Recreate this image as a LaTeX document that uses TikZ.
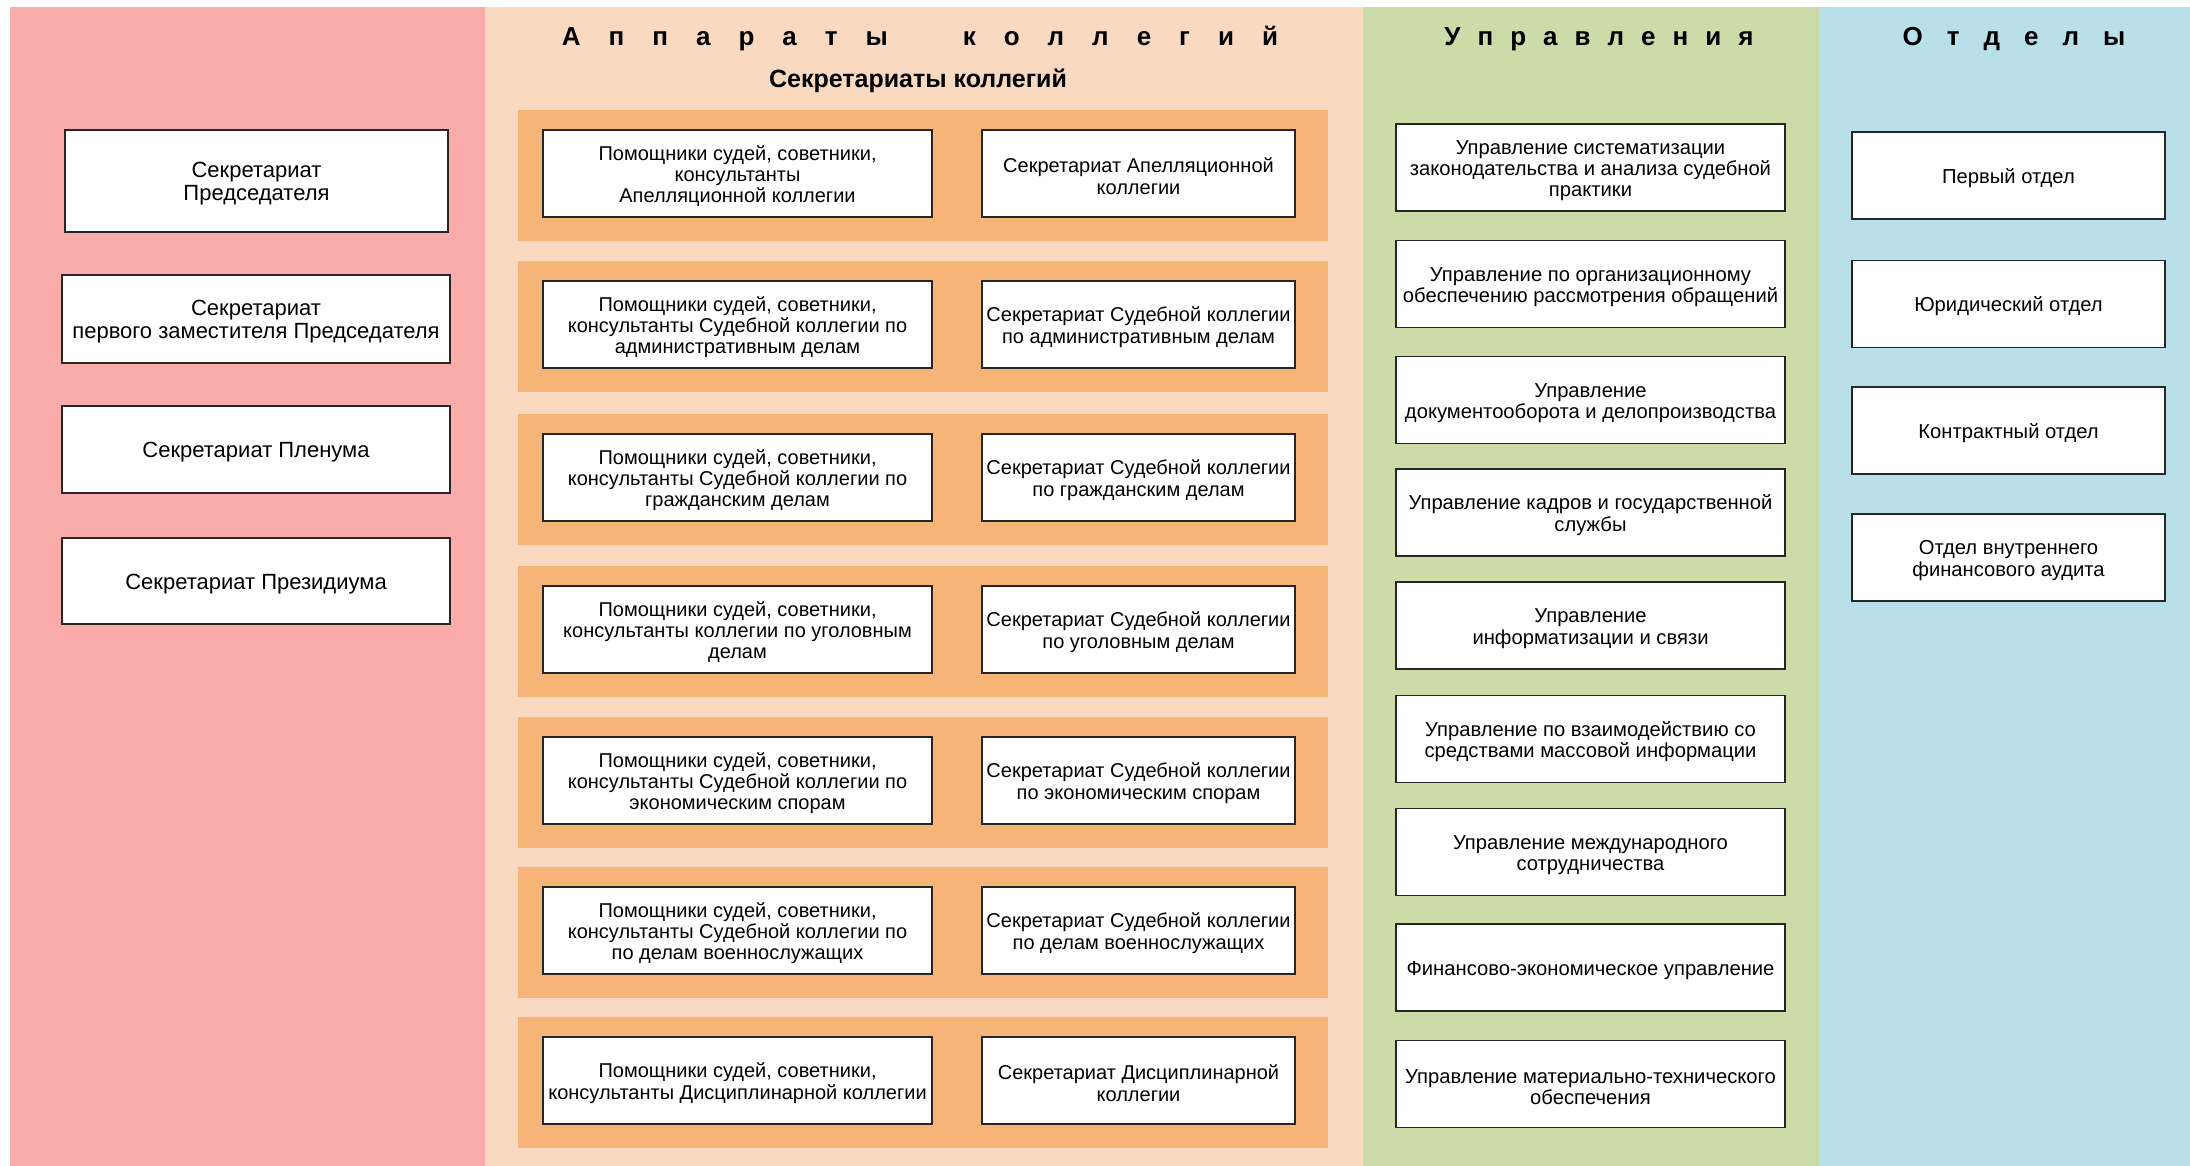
\documentclass[tikz,border=0pt]{standalone}
\usepackage{fontspec}
\setmainfont{Liberation Sans}
\definecolor{cpink}{RGB}{250,172,170}
\definecolor{cpeach}{RGB}{250,217,193}
\definecolor{corange}{RGB}{247,180,120}
\definecolor{cgreen}{RGB}{203,220,168}
\definecolor{cblue}{RGB}{185,224,232}
\newcommand{\mynudge}{\rule{0pt}{20pt}}
\newcommand{\mynudgeL}{\rule{0pt}{21.5pt}}
\tikzset{
  box/.style={draw=black!85, line width=1.7pt, fill=white, align=center, inner sep=2pt},
  ltext/.style={font=\fontsize{22}{23}\selectfont},
  mtext/.style={font=\fontsize{20}{21.3}\selectfont},
  rtext/.style={font=\fontsize{20.2}{21.3}\selectfont},
  lbox/.style={box, ltext, minimum width=388pt, minimum height=87pt},
  mlbox/.style={box, mtext, minimum width=389pt, minimum height=87pt},
  mrbox/.style={box, mtext, minimum width=313pt, minimum height=87pt},
  ubox/.style={box, rtext, minimum width=389pt, minimum height=87pt},
  obox/.style={box, rtext, minimum width=313pt, minimum height=87pt},
  band/.style={fill=corange, draw=none, minimum width=810pt, minimum height=131pt, inner sep=0pt},
  ttl/.style={font=\bfseries\fontsize{26}{28}\selectfont, inner sep=0pt},
  subttl/.style={font=\bfseries\fontsize{25}{27}\selectfont, inner sep=0pt},
}
\begin{document}
\begin{tikzpicture}[x=1pt,y=-1pt]
\useasboundingbox[fill=white] (0,0) rectangle (2190,1166);
% columns
\fill[cpink]  (10,7) rectangle (485,1166);
\fill[cpeach] (485,7) rectangle (1363,1166);
\fill[cgreen] (1363,7) rectangle (1819,1166);
\fill[cblue]  (1819,7) rectangle (2190,1166);

% titles
\node[ttl] (t1) at (920,39) {\def\g{\hspace{28pt}}А\g п\g п\g а\g р\g а\g т\g ы\hspace{75pt}к\g о\g л\g л\g е\g г\g и\g й};
\node[subttl] (t1b) at (918,81) {Секретариаты коллегий};
\node[ttl] (t2) at (1599,39) {\def\g{\hspace{17pt}}У\g п\g р\g а\g в\g л\g е\g н\g и\g я};
\node[ttl] (t3) at (2014,39) {\def\g{\hspace{24pt}}О\g т\g д\g е\g л\g ы};

% left column
\node[lbox, minimum width=383pt, minimum height=102pt] (l1) at (256.5,181) {\mynudgeL Секретариат\\Председателя};
\node[lbox, minimum height=88pt] (l2) at (256,319) {\mynudgeL Секретариат\\первого заместителя Председателя};
\node[lbox] (l3) at (256,449.5) {\mynudgeL Секретариат Пленума};
\node[lbox, minimum height=86pt] (l4) at (256,581) {\mynudgeL Секретариат Президиума};

% middle bands
\node[band] (b1) at (923,175.5) {};
\node[band] (b2) at (923,326.5) {};
\node[band] (b3) at (923,479.5) {};
\node[band] (b4) at (923,631.5) {};
\node[band] (b5) at (923,782.5) {};
\node[band] (b6) at (923,932.5) {};
\node[band] (b7) at (923,1082.5) {};

\node[mlbox] (m1a) at (737.5,173.5) {\mynudge Помощники судей, советники,\\консультанты\\Апелляционной коллегии};
\node[mrbox] (m1b) at (1138.5,173.5) {\mynudge Секретариат Апелляционной\\коллегии};
\node[mlbox] (m2a) at (737.5,324.5) {\mynudge Помощники судей, советники,\\консультанты Судебной коллегии по\\административным делам};
\node[mrbox] (m2b) at (1138.5,324.5) {\mynudge Секретариат Судебной коллегии\\по административным делам};
\node[mlbox] (m3a) at (737.5,477.5) {\mynudge Помощники судей, советники,\\консультанты Судебной коллегии по\\гражданским делам};
\node[mrbox] (m3b) at (1138.5,477.5) {\mynudge Секретариат Судебной коллегии\\по гражданским делам};
\node[mlbox] (m4a) at (737.5,629.5) {\mynudge Помощники судей, советники,\\консультанты коллегии по уголовным\\делам};
\node[mrbox] (m4b) at (1138.5,629.5) {\mynudge Секретариат Судебной коллегии\\по уголовным делам};
\node[mlbox] (m5a) at (737.5,780.5) {\mynudge Помощники судей, советники,\\консультанты Судебной коллегии по\\экономическим спорам};
\node[mrbox] (m5b) at (1138.5,780.5) {\mynudge Секретариат Судебной коллегии\\по экономическим спорам};
\node[mlbox] (m6a) at (737.5,930.5) {\mynudge Помощники судей, советники,\\консультанты Судебной коллегии по\\по делам военнослужащих};
\node[mrbox] (m6b) at (1138.5,930.5) {\mynudge Секретариат Судебной коллегии\\по делам военнослужащих};
\node[mlbox] (m7a) at (737.5,1080.5) {\mynudge Помощники судей, советники,\\консультанты Дисциплинарной коллегии};
\node[mrbox] (m7b) at (1138.5,1080.5) {\mynudge Секретариат Дисциплинарной\\коллегии};

% Управления
\node[ubox] (u1) at (1590.5,167.5) {\mynudge Управление систематизации\\законодательства и анализа судебной\\практики};
\node[ubox] (u2) at (1590.5,284) {\mynudge Управление по организационному\\обеспечению рассмотрения обращений};
\node[ubox] (u3) at (1590.5,400) {\mynudge Управление\\документооборота и делопроизводства};
\node[ubox] (u4) at (1590.5,512.5) {\mynudge Управление кадров и государственной\\службы};
\node[ubox] (u5) at (1590.5,625.5) {\mynudge Управление\\информатизации и связи};
\node[ubox] (u6) at (1590.5,739) {\mynudge Управление по взаимодействию со\\средствами массовой информации};
\node[ubox] (u7) at (1590.5,852) {\mynudge Управление международного\\сотрудничества};
\node[ubox] (u8) at (1590.5,967.5) {\mynudge Финансово-экономическое управление};
\node[ubox] (u9) at (1590.5,1084) {\mynudge Управление материально-технического\\обеспечения};

% Отделы
\node[obox] (o1) at (2008.5,175.5) {\mynudge Первый отдел};
\node[obox] (o2) at (2008.5,304) {\mynudge Юридический отдел};
\node[obox] (o3) at (2008.5,430.5) {\mynudge Контрактный отдел};
\node[obox] (o4) at (2008.5,557.5) {\mynudge Отдел внутреннего\\финансового аудита};
\end{tikzpicture}
\end{document}
